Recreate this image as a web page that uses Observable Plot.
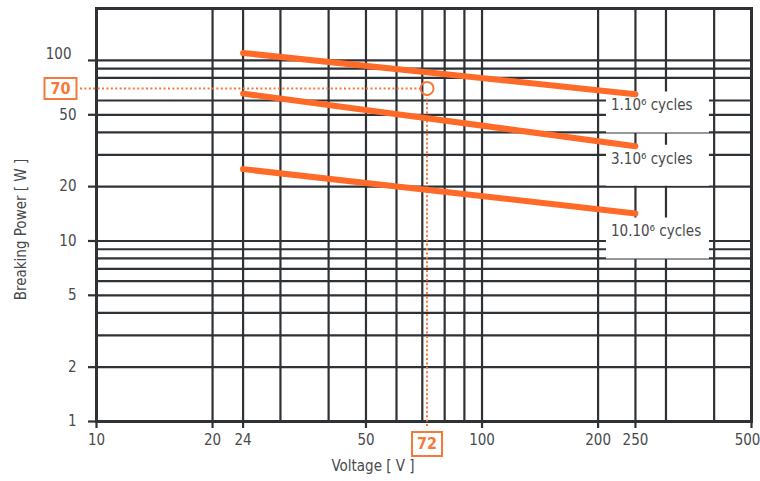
<!DOCTYPE html>
<html><head><meta charset="utf-8">
<script src="https://cdn.jsdelivr.net/npm/d3@7"></script>
<script src="https://cdn.jsdelivr.net/npm/@observablehq/plot@0.6"></script>
<style>
html,body{margin:0;padding:0;background:#fff;}
#chart svg{display:block;font-stretch:condensed;}
</style></head><body><div id="chart"></div>
<script>
// grid & tick values
const xGridValues = [10,20,24,30,40,50,60,70,80,90,100,200,250,300,400,500];
const xTickLabels = [10,20,24,50,100,200,250];
const xLastLabel = [500];
const yGridValues = [1,2,3,4,5,6,7,8,9,10,20,30,40,50,60,80,90,100];
const yTickLabels = [1,2,5,10,20,50];
const yTopLabel = [100];

// series (voltage V -> breaking power W)
const seriesNames = ["1.10⁶ cycles","3.10⁶ cycles","10.10⁶ cycles"];
const voltage = [24, 250];
const power1M = [110, 65];
const power3M = [65.5, 33.5];
const power10M = [25, 14.2];

// label anchors
const labelVoltage = 216;
const labelPower = [56.3, 28.5, 11.3];

// example marker
const markerVoltage = 72;
const markerPower = 70;

const series = [power1M, power3M, power10M];
const lineData = series.flatMap((ps, k) => ps.map((p, i) => ({name: seriesNames[k], v: voltage[i], p})));
const labelData = seriesNames.map((name, k) => ({name, v: labelVoltage, p: labelPower[k]}));
const marker = [{v: markerVoltage, p: markerPower}];

const grid = "#2e3135", orange = "#ff6a28", accent = "#f5793a", ink = "#484a4d";
const font = "'DejaVu Sans Condensed','DejaVu Sans',sans-serif";
const rectSymbol = (w, h) => ({draw(ctx) { ctx.rect(-w / 2, -h / 2, w, h); }});
const xMin = 10, yMin = 1;

const chart = Plot.plot({
  width: 760, height: 481,
  marginTop: 8, marginRight: 9, marginBottom: 60, marginLeft: 96,
  x: {type: "log", domain: [xMin, 500]},
  y: {type: "log", domain: [yMin, 194]},
  style: {fontFamily: font, fontSize: "15px", color: ink, background: "#fff", overflow: "visible"},
  marks: [
    Plot.ruleX(xGridValues, {stroke: grid, strokeWidth: 2.2}),
    Plot.ruleY(yGridValues, {stroke: grid, strokeWidth: 2.2}),
    Plot.frame({stroke: grid, strokeWidth: 3}),
    Plot.axisX({ticks: xTickLabels.concat(xLastLabel), tickFormat: d => xLastLabel.includes(d) ? "" : String(d), tickSize: 7, tickPadding: 6, stroke: grid, strokeWidth: 2.2, fill: ink, label: null, fontSize: 15}),
    Plot.text(xLastLabel, {x: d => d, text: d => String(d), frameAnchor: "bottom", textAnchor: "middle", lineAnchor: "middle", dx: -4, dy: 19, fill: ink, fontSize: 15}),
    Plot.axisY({ticks: yTickLabels.concat(yTopLabel), tickFormat: d => yTopLabel.includes(d) ? "" : String(d), tickSize: 8, tickPadding: 12, stroke: grid, strokeWidth: 2.2, fill: ink, label: null, fontSize: 15}),
    Plot.text(yTopLabel, {y: d => d, text: d => String(d), frameAnchor: "left", textAnchor: "end", lineAnchor: "middle", dx: -25, dy: -6, fill: ink, fontSize: 15}),
    // label backgrounds
    Plot.dot(labelData, {x: "v", y: "p", symbol: rectSymbol(103, 41), fill: "#fff", dx: 46.5, dy: 6.5}),
    // dotted guides
    Plot.ruleY(marker, {y: "p", x1: () => xMin, x2: "v", stroke: accent, strokeWidth: 2, strokeDasharray: "2 2.4", insetLeft: -16, insetRight: 6}),
    Plot.ruleX(marker, {x: "v", y1: () => yMin, y2: "p", stroke: accent, strokeWidth: 2, strokeDasharray: "2 2.4", insetTop: 5, insetBottom: -6}),
    // series lines
    Plot.line(lineData, {x: "v", y: "p", z: "name", stroke: orange, strokeWidth: 6, strokeLinecap: "round"}),
    Plot.dot(marker, {x: "v", y: "p", r: 6.5, stroke: accent, strokeWidth: 2, fill: "none"}),
    Plot.text(labelData, {x: "v", y: "p", text: "name", textAnchor: "start", lineAnchor: "middle", fontSize: 15, fill: ink}),
    // marker value boxes
    Plot.dot(marker, {y: "p", frameAnchor: "left", dx: -36, symbol: rectSymbol(32, 21), fill: "#fff", stroke: accent, strokeWidth: 2}),
    Plot.text(marker, {y: "p", text: d => String(d.p), frameAnchor: "left", textAnchor: "middle", lineAnchor: "middle", dx: -36, fill: accent, fontWeight: "bold", fontSize: 16}),
    Plot.dot(marker, {x: "v", frameAnchor: "bottom", dy: 22.5, symbol: rectSymbol(30, 24), fill: "#fff", stroke: accent, strokeWidth: 2}),
    Plot.text(marker, {x: "v", text: d => String(d.v), frameAnchor: "bottom", textAnchor: "middle", lineAnchor: "middle", dy: 22.5, fill: accent, fontWeight: "bold", fontSize: 16}),
    // axis titles
    Plot.text(["Voltage [ V ]"], {frameAnchor: "bottom", textAnchor: "middle", lineAnchor: "middle", dx: -51, dy: 45, fontSize: 15, fill: ink}),
    Plot.text(["Breaking Power [ W ]"], {frameAnchor: "left", textAnchor: "middle", lineAnchor: "middle", dx: -75, dy: 14.5, rotate: -90, fontSize: 15, fill: ink})
  ]
});
document.getElementById("chart").append(chart);
</script></body></html>
